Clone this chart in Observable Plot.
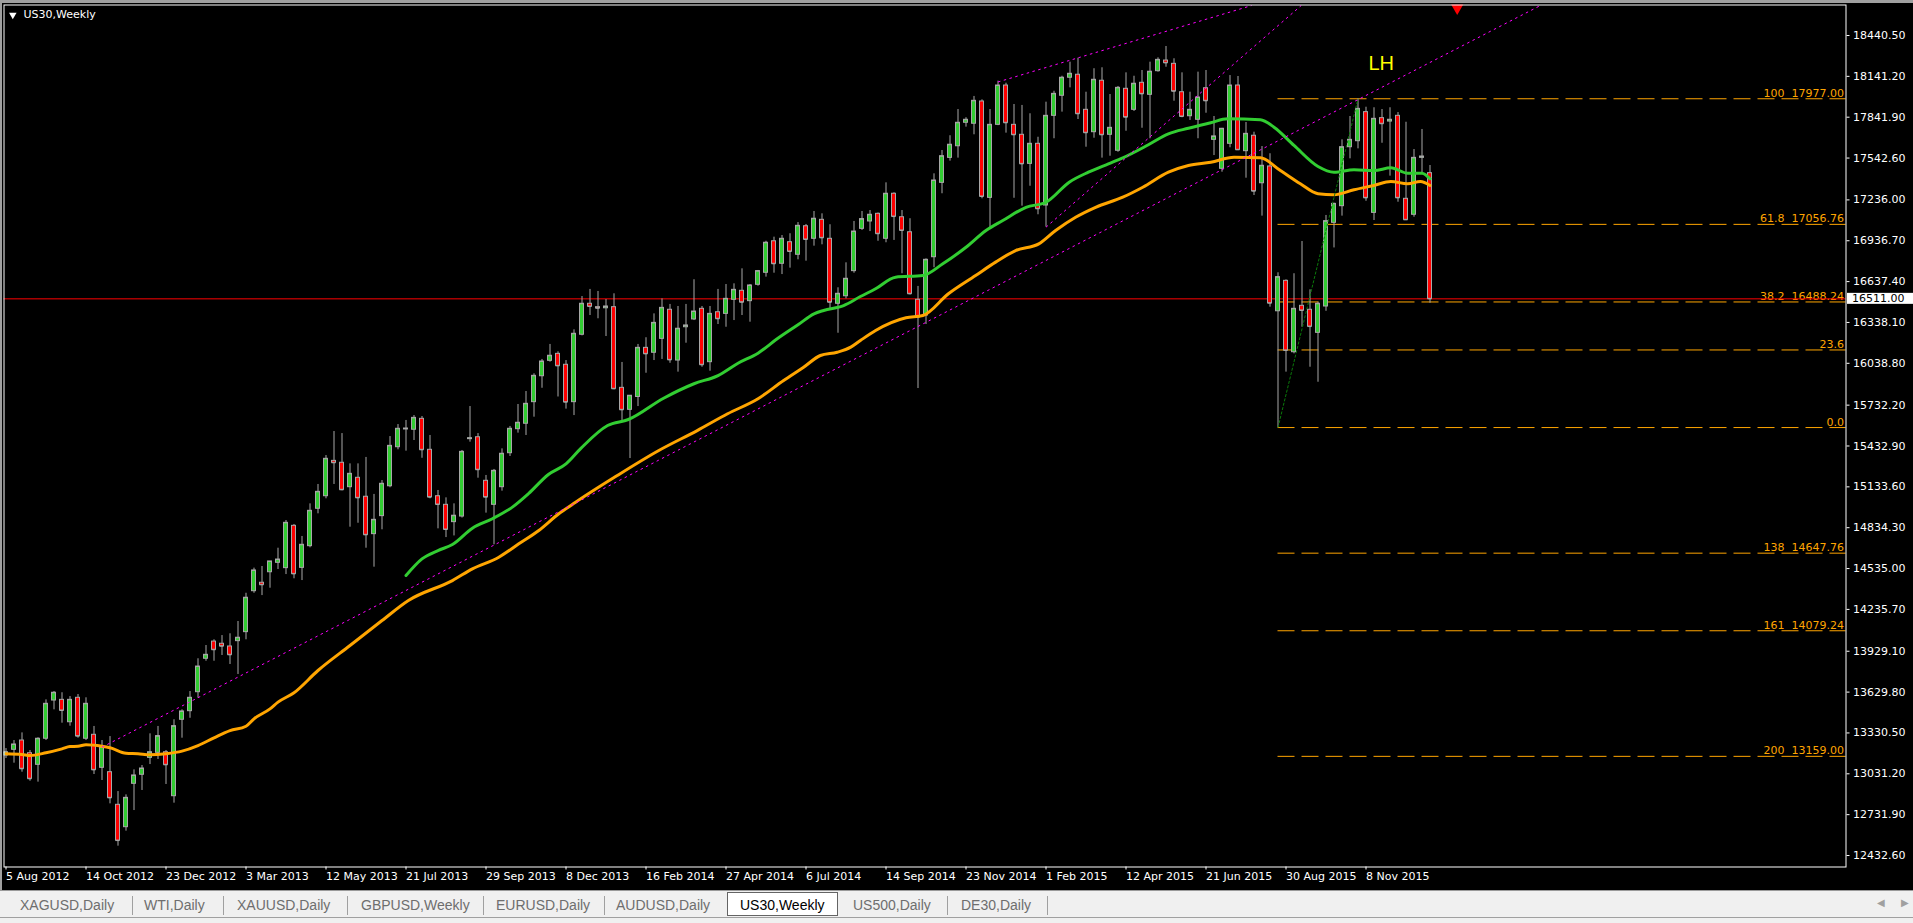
<!DOCTYPE html>
<html>
<head>
<meta charset="utf-8">
<script src="https://cdn.jsdelivr.net/npm/d3@7"></script>
<script src="https://cdn.jsdelivr.net/npm/@observablehq/plot@0.6"></script>
<style>
  html, body { margin:0; padding:0; width:1913px; height:923px; overflow:hidden; background:#f0f0f0; }
  #chart { position:absolute; left:0; top:0; width:1913px; height:891px; background:#000; }
  #chart svg { display:block; }
  .edge { position:absolute; background:#a0a0a0; }
  #tabs { position:absolute; left:0; top:890px; width:1913px; height:33px; background:#f0f0f0; border-top:1px solid #9a9a9a; box-sizing:border-box; font-family:"Liberation Sans", Arial, sans-serif; font-size:14px; color:#6e6e6e; }
  .tab { position:absolute; top:6px; line-height:16px; white-space:nowrap; }
  .sep { position:absolute; top:5px; width:1px; height:19px; background:#a0a0a0; }
  .active { position:absolute; left:727px; top:1px; width:109px; height:22px; background:#fff; border:1px solid #646464; }
  #status { position:absolute; left:0; top:26px; width:1913px; height:1px; background:#a0a0a0; }
  .arrow { position:absolute; top:6px; font-size:10px; color:#a0a0a0; font-family:"DejaVu Sans", sans-serif; }
</style>
</head>
<body>
<div id="chart"></div>
<div class="edge" style="left:0;top:0;width:1913px;height:3px;"></div>
<div class="edge" style="left:0;top:0;width:2px;height:891px;"></div>
<div id="tabs"></div>
<script>
// ---------- data ----------
const barCount = 179;
const open = [13165,13207,13275,13182,13097,13288,13568,13573,13409,13588,
13288,13317,13075,13043,12804,12640,12958,13024,13148,13185,
13189,12867,13427,13490,13629,13874,14000,13984,13964,14003,
14069,14369,14431,14508,14577,14538,14848,14540,14699,14973,
15065,15324,15310,15131,15200,15061,14787,14919,15138,15424,
15554,15552,15632,15405,15065,15002,14875,14916,15483,15497,
15178,15002,15131,15380,15556,15596,15754,15944,16057,16108,
16028,15754,16248,16475,16450,16442,16450,15859,15698,15792,
16152,16116,16218,16431,16059,16303,16360,16438,16047,16413,
16401,16504,16570,16494,16614,16702,16933,16768,16926,16834,
17043,16951,17090,16951,16475,16530,16714,17024,17078,17134,
16951,17281,17109,16999,16504,16389,16816,17361,17544,17629,
17801,17794,17957,17251,17786,18074,17786,17713,17500,17647,
17195,17852,17999,18131,18153,17896,17732,18109,17713,17596,
18050,17896,18094,18006,18179,18257,18233,18025,17849,17823,
18054,17676,17464,17647,18074,17593,17706,17358,17481,16420,
16643,16120,16460,16431,16262,16455,17068,17190,17622,17666,
17879,17141,17835,17810,17852,17244,17127,17544,17432];
const high = [13216,13275,13331,13202,13295,13573,13634,13625,13597,13612,
13588,13378,13275,13304,12901,12877,13060,13092,13324,13378,
13202,13427,13500,13634,13874,13971,14013,14044,14057,14147,
14354,14538,14550,14587,14684,14887,14858,14770,15009,15151,
15363,15539,15524,15302,15302,15349,15078,15180,15502,15590,
15620,15656,15649,15510,15107,15053,15009,15400,15722,15524,
15217,15261,15412,15576,15737,15832,15962,16067,16177,16123,
16059,16284,16528,16580,16565,16506,16548,16045,15801,16177,
16226,16401,16511,16470,16455,16470,16651,16455,16455,16580,
16616,16621,16731,16616,16719,16933,16963,16975,16988,17070,
17056,17151,17134,17054,16592,16775,17078,17151,17158,17140,
17361,17288,17158,17098,16602,16804,17427,17598,17706,17898,
17838,17994,17969,17898,18106,18091,17935,17928,17867,17695,
17952,18032,18142,18245,18274,18025,18197,18204,18008,18067,
18167,18142,18184,18245,18277,18360,18270,18167,18025,18172,
18184,17847,17760,18147,18140,17803,17732,17627,17574,16702,
16650,16695,16931,16577,16486,17122,17212,17676,17847,17977,
17915,17911,17898,17911,17876,17805,17605,17752,17488];
const low = [13143,13109,13043,12977,12970,13275,13500,13402,13380,13292,
13275,13026,12982,12811,12501,12611,12762,12909,13099,13136,
12953,12816,13292,13438,13585,13856,13856,13898,13832,13759,
14013,14354,14337,14391,14528,14491,14460,14447,14687,14936,
15046,15151,15105,14838,14867,14684,14545,14819,15127,15405,
15395,15473,15343,15046,14826,14762,14774,14905,15461,15197,
14941,14709,15102,15356,15527,15510,15644,15856,16047,15792,
15703,15656,16240,16389,16365,16235,15845,15620,15341,15722,
15966,16059,16067,16039,15974,16186,16352,16010,15981,16323,
16303,16352,16389,16340,16604,16670,16699,16689,16736,16797,
16787,16897,16907,16438,16259,16511,16699,17012,17004,16933,
16922,16939,16695,16540,15854,16323,16739,17281,17520,17542,
17769,17713,17244,17032,17780,17725,17248,17190,17336,17127,
17036,17684,17879,18057,17825,17622,17688,17542,17556,17585,
17739,17884,17761,17684,18172,18208,17959,17838,17818,17684,
17871,17561,17439,17618,17600,17395,17268,17117,16450,15568,
15974,16108,16303,16010,15900,16420,16884,17117,17537,17610,
17226,17085,17651,17410,17219,17085,17109,17432,16479];
const close = [13189,13246,13068,12995,13288,13544,13625,13495,13573,13307,
13544,13060,13226,12855,12542,12855,13019,13070,13189,13307,
13097,13380,13488,13588,13817,13903,13940,13966,13903,14028,
14321,14521,14416,14587,14601,14870,14496,14709,14958,15097,
15339,15310,15112,15229,15053,14782,14892,15156,15434,15559,
15561,15639,15405,15058,15004,14821,14922,15390,15490,15259,
15058,15251,15376,15559,15603,15742,15947,16052,16094,16020,
15754,16255,16475,16455,16442,16455,15852,15698,15801,16152,
16108,16335,16445,16064,16292,16316,16418,16028,16401,16365,
16511,16577,16486,16609,16714,16922,16768,16951,16858,17046,
16946,17098,16958,16486,16548,16658,17004,17095,17127,16988,
17281,17114,17012,16548,16377,16797,17378,17556,17640,17801,
17823,17962,17261,17786,18074,17801,17713,17500,17647,17171,
17852,18013,18131,18160,17867,17728,18116,17713,17764,18057,
17842,18087,18013,18175,18262,18240,18032,17847,17896,17986,
17962,17701,17757,18074,17603,17720,17300,17486,16479,16670,
16133,16438,16426,16308,16475,17080,17207,17622,17676,17903,
17251,17830,17794,17823,17251,17090,17544,17554,16511];

// x-axis ticks (bar index of each weekly label)
const dateTickBars = [0,10,20,30,40,50,60,70,80,90,100,110,120,130,140,150,160,170];
const dateTickLabels = ["5 Aug 2012","14 Oct 2012","23 Dec 2012","3 Mar 2013","12 May 2013","21 Jul 2013",
  "29 Sep 2013","8 Dec 2013","16 Feb 2014","27 Apr 2014","6 Jul 2014","14 Sep 2014","23 Nov 2014",
  "1 Feb 2015","12 Apr 2015","21 Jun 2015","30 Aug 2015","8 Nov 2015"];
// y-axis ticks
const priceTicks = [18440.5,18141.2,17841.9,17542.6,17236.0,16936.7,16637.4,16338.1,16038.8,15732.2,
  15432.9,15133.6,14834.3,14535.0,14235.7,13929.1,13629.8,13330.5,13031.2,12731.9,12432.6];

// moving averages (sampled at bar positions)
const orangeMaBars = [0,2,3,5,7,8,9,10,12,13,15,16.5,18,20,22,24,26,28,30,31,33,34,36,39,43,47,
  50.3,55.8,58.3,61.6,64.1,66.6,69.1,71.2,76.2,81.6,86.4,90.2,94,97.2,99.7,101.8,103.9,105.6,106.8,
  108.7,112.5,114.6,117.8,121.2,123.7,126.2,129.1,131.2,133.7,136.2,139.6,142.1,145.3,147.8,150.6,
  153.5,156.8,159.3,161.8,164,166,168.5,171,173.1,175.2,176.8,178];
const orangeMaValues = [13178,13173,13165,13185,13214,13231,13233,13244,13233,13222,13182,13178,13170,
  13178,13197,13238,13295,13348,13380,13434,13507,13556,13625,13788,13971,14154,
  14301,14447,14533,14618,14716,14814,14936,15021,15209,15400,15546,15669,15779,15913,16010,16096,
  16120,16157,16206,16279,16372,16389,16548,16682,16780,16865,16914,17012,17109,17182,17256,17329,
  17439,17488,17512,17549,17544,17451,17354,17281,17273,17310,17342,17371,17354,17371,17342];
const greenMaBars = [50,52,54,55.8,58.3,60.8,63.3,65.3,67.8,70,71.8,75.2,77.8,82.2,86,89,91.5,94,96.4,
  99,101,102.2,104.7,106.8,108.7,111.2,114.6,117.1,120,122.5,124.6,127.5,130,132.9,135.3,137.8,139.6,
  142.8,145.3,147.8,150.6,152.7,156.8,158.5,161,164,166,168.5,171,173.1,175.2,177,178];
const greenMaValues = [14484,14606,14667,14711,14831,14900,14985,15083,15224,15302,15412,15583,15627,
  15783,15889,15949,16039,16113,16218,16321,16401,16426,16462,16528,16585,16670,16682,16768,16889,
  17012,17085,17182,17219,17366,17439,17500,17544,17640,17720,17761,17801,17830,17823,17769,17635,
  17481,17439,17457,17451,17471,17432,17432,17391];

// trend lines (magenta dotted)
const trendStartBar = [12, 124, 130];
const trendStartPrice = [13226, 18100, 17036];
const trendEndBar = [191.8, 155.7, 161.9];
const trendEndPrice = [18660, 18660, 18660];

// Fibonacci retracement
const fibStartBar = 159;
const fibBaseStart = {bar: 159, price: 15568};
const fibBaseEnd = {bar: 169, price: 17977};
const fibPrices = [17977, 17056.76, 16488.24, 16136.52, 15568, 14647.76, 14079.24, 13159];
const fibLabels = ["100  17977.00","61.8  17056.76","38.2  16488.24","23.6","0.0","138  14647.76","161  14079.24","200  13159.00"];

const bidPrice = 16511;
const lhNote = [{bar: 171.9, price: 18235, label: "LH"}];
const arrowMark = [{bar: 181.4, price: 18642}];
const chartTitle = "US30,Weekly";

const tabNames = ["XAGUSD,Daily","WTI,Daily","XAUUSD,Daily","GBPUSD,Weekly","EURUSD,Daily","AUDUSD,Daily","US30,Weekly","US500,Daily","DE30,Daily"];

// ---------- build ----------
const candles = d3.range(barCount).map(i => ({i, open: open[i], high: high[i], low: low[i], close: close[i]}));
const orangeMa = orangeMaBars.map((b, k) => ({bar: b, v: orangeMaValues[k]}));
const greenMa = greenMaBars.map((b, k) => ({bar: b, v: greenMaValues[k]}));
const trends = trendStartBar.map((b, k) => ({x1: b, y1: trendStartPrice[k], x2: trendEndBar[k], y2: trendEndPrice[k]}));
const fibs = fibPrices.map((p, k) => ({p, label: fibLabels[k]}));
const xDomain = [-0.25, 230];

const wickColor = "#a8a8a8";
const plot = Plot.plot({
  width: 1913, height: 891,
  marginLeft: 3.5, marginRight: 67.5, marginTop: 4.5, marginBottom: 24.5,
  x: {type: "linear", domain: xDomain},
  y: {type: "linear", domain: [12348.34, 18663.96]},
  style: {background: "#000", color: "#fff", fontFamily: "'DejaVu Sans', sans-serif", fontSize: "11px", overflow: "visible"},
  marks: [
    // fib levels
    Plot.ruleY(fibs, {y: "p", x1: fibStartBar, x2: xDomain[1], stroke: "#ffa500", strokeWidth: 1, strokeDasharray: "17,7"}),
    Plot.text(fibs, {y: "p", text: "label", frameAnchor: "right", dx: -2, dy: -2, textAnchor: "end", lineAnchor: "bottom", fill: "#ffa500"}),
    // bid line
    Plot.ruleY([bidPrice], {stroke: "#ff0000", strokeWidth: 1}),
    // candles
    Plot.ruleX(candles, {x: "i", y1: "low", y2: "high", stroke: wickColor, strokeWidth: 1, clip: true}),
    Plot.rect(candles, {x1: d => d.i - 0.25, x2: d => d.i + 0.25, y1: "open", y2: "close",
      fill: d => d.close >= d.open ? "#32cd32" : "#ff0000", stroke: wickColor, strokeWidth: 1, clip: true}),
    Plot.ruleY(candles, {x1: d => d.i - 0.25, x2: d => d.i + 0.25, y: "close", stroke: wickColor, strokeWidth: 1, clip: true}),
    // moving averages
    Plot.line(orangeMa, {x: "bar", y: "v", stroke: "#ffa500", strokeWidth: 3, curve: "monotone-x"}),
    Plot.line(greenMa, {x: "bar", y: "v", stroke: "#32cd32", strokeWidth: 3, curve: "monotone-x"}),
    // trend lines
    Plot.link(trends, {x1: "x1", y1: "y1", x2: "x2", y2: "y2", stroke: "#ff00ff", strokeWidth: 1, strokeDasharray: "2.5,3.5", clip: true}),
    Plot.link([{}], {x1: fibBaseStart.bar, y1: fibBaseStart.price, x2: fibBaseEnd.bar, y2: fibBaseEnd.price, stroke: "#0a7a0a", strokeWidth: 1, strokeDasharray: "3,1.5"}),
    // annotations
    Plot.text(lhNote, {x: "bar", y: "price", text: "label", fill: "#ffff00", fontSize: 20, fontFamily: "'Liberation Sans', Arial, sans-serif"}),
    Plot.dot(arrowMark, {x: "bar", y: "price", symbol: "triangle", rotate: 180, r: 4.5, fill: "#ff0000", stroke: "none", clip: false}),
    // frame + axes
    Plot.frame({stroke: "#ffffff", strokeWidth: 1}),
    Plot.axisY(priceTicks, {anchor: "right", tickSize: 3, tickPadding: 4, stroke: "#fff", fill: "#fff", label: null,
      tickFormat: d => d.toFixed(2)}),
    Plot.axisX(dateTickBars, {anchor: "bottom", tickSize: 3, tickPadding: 2, textAnchor: "start", stroke: "#fff", fill: "#fff", label: null,
      tickFormat: d => dateTickLabels[dateTickBars.indexOf(d)]}),
    // title
    Plot.dot([0], {frameAnchor: "top-left", dx: 8.8, dy: 10, symbol: "triangle", rotate: 180, r: 2.8, fill: "#fff", stroke: "none"}),
    Plot.text([chartTitle], {frameAnchor: "top-left", dx: 19.5, dy: 5.5, lineAnchor: "top", textAnchor: "start", fill: "#fff"})
  ]
});
document.getElementById("chart").appendChild(plot);

// current price box on the price axis (uses the plot's y scale)
const yScale = plot.scale("y");
const by = yScale.apply(bidPrice);
const svg = d3.select(plot);
const g = svg.append("g").attr("text-anchor", "start");
g.append("rect").attr("x", 1847).attr("y", by - 5.5).attr("width", 66).attr("height", 11).attr("fill", "#fff");
g.append("text").attr("x", 1852).attr("y", by).attr("dy", "0.35em").attr("fill", "#000").attr("text-anchor", "start")
  .attr("font-family", "'DejaVu Sans', sans-serif").attr("font-size", 11).text(bidPrice.toFixed(2));

// tab bar
const tabs = document.getElementById("tabs");
const tabLeft = [20, 144, 237, 361, 496, 616, 740, 853, 961];
const sepLeft = [132, 223, 347, 483, 604, 947, 1047];
tabs.insertAdjacentHTML("beforeend", `<div class="active"></div>`);
sepLeft.forEach(x => tabs.insertAdjacentHTML("beforeend", `<div class="sep" style="left:${x}px"></div>`));
tabNames.forEach((t, k) => {
  const active = t === chartTitle;
  tabs.insertAdjacentHTML("beforeend", `<div class="tab" style="left:${tabLeft[k]}px;${active ? "color:#000" : ""}">${t}</div>`);
});
tabs.insertAdjacentHTML("beforeend", `<div id="status"></div><div class="arrow" style="left:1877px">&#9664;</div><div class="arrow" style="left:1901px">&#9654;</div>`);
</script>
</body>
</html>
